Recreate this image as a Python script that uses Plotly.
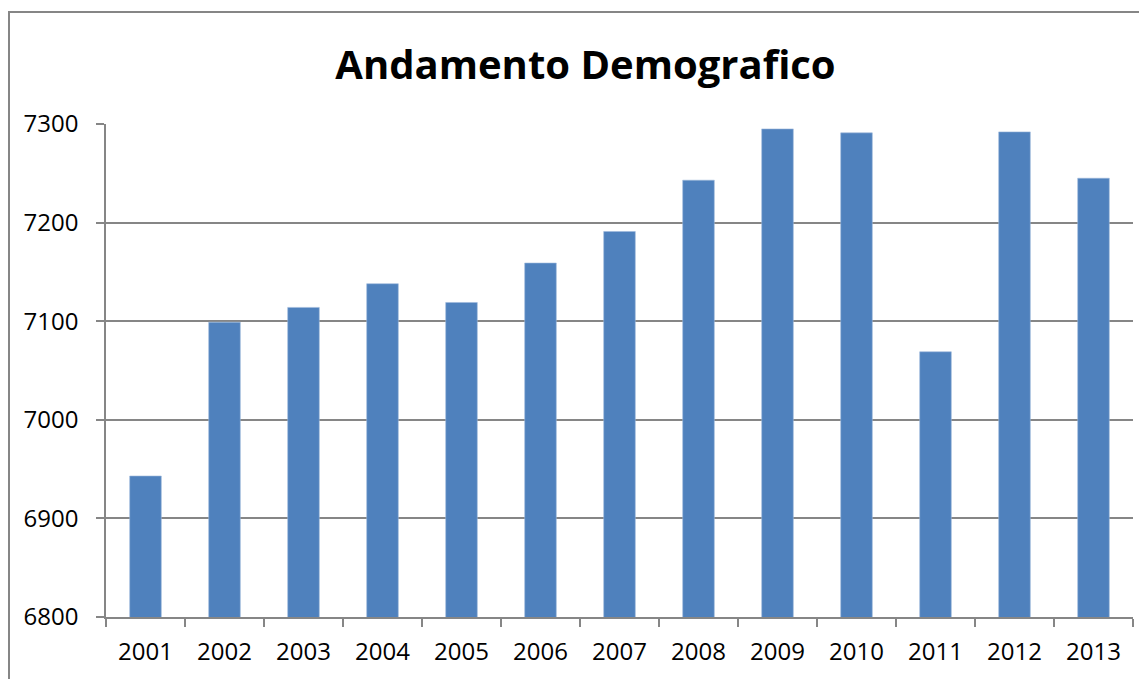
import plotly.graph_objects as go

years = ["2001", "2002", "2003", "2004", "2005", "2006", "2007",
         "2008", "2009", "2010", "2011", "2012", "2013"]
population = [6943, 7099, 7114, 7138, 7119, 7159, 7191,
              7243, 7295, 7291, 7069, 7292, 7245]
y_ticks = [6800, 6900, 7000, 7100, 7200, 7300]

# page has an 8px body margin, so the figure is sized to fit the window
W, H = 1139, 671
L, R, T, B = 98, 14, 116, 62
pw = W - L - R
ph = H - T - B

def px_x(p):
    return (p - L) / pw

def px_y(p):
    return (H - B - p) / ph

GREY = "#868686"

fig = go.Figure()
fig.add_trace(go.Bar(
    x=years, y=population,
    marker=dict(color="#4F81BD", line=dict(color="#9DB9DC", width=0.6)),
))

fig.update_layout(
    width=W, height=H,
    margin=dict(l=L, r=R, t=T, b=B),
    paper_bgcolor="white", plot_bgcolor="white",
    bargap=0.60,
    showlegend=False,
    font=dict(family="Open Sans", color="black", size=24),
    title=dict(text="<b>Andamento Demografico</b>",
               font=dict(family="Open Sans", size=40, color="black"),
               x=577.5 / W, xref="container", xanchor="center",
               y=1 - 57 / H, yanchor="middle"),
    xaxis=dict(type="category", tickson="boundaries", ticks="outside",
               ticklen=8, tickcolor=GREY, tickwidth=1.5,
               showline=True, linecolor=GREY, linewidth=1.5,
               showgrid=False, tickfont=dict(size=24),
               ticklabelstandoff=12),
    yaxis=dict(range=[6800, 7300], tickvals=y_ticks, ticks="outside",
               ticklen=8, tickcolor=GREY, tickwidth=1.5,
               showline=True, linecolor=GREY, linewidth=1.5,
               showgrid=True, gridcolor=GREY, gridwidth=1.5,
               zeroline=False, tickfont=dict(size=24),
               ticklabelstandoff=13),
)

fig.add_shape(type="rect", xref="paper", yref="paper",
              x0=px_x(1), x1=px_x(1160), y0=px_y(700), y1=px_y(4),
              line=dict(color=GREY, width=2), fillcolor="rgba(0,0,0,0)",
              layer="above")

fig.write_html("out.html")
